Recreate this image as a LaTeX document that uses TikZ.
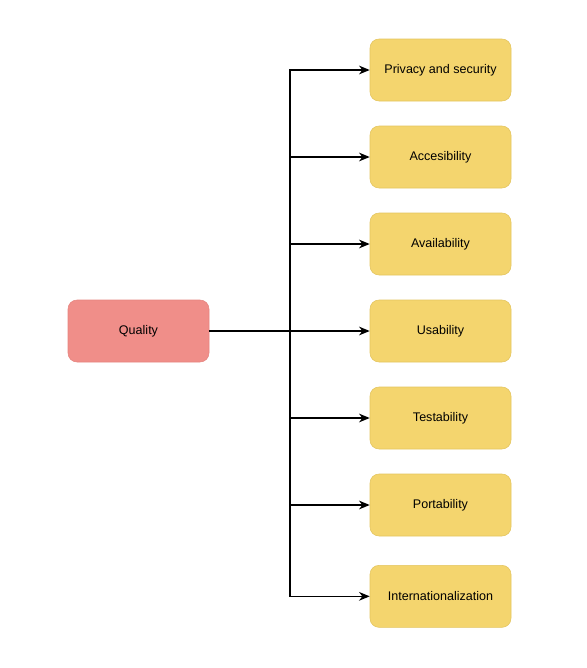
\documentclass[tikz,border=0pt]{standalone}
\usepackage{fontspec}
\setmainfont{Liberation Sans}
\usepackage{xcolor}
\usetikzlibrary{arrows.meta, positioning}

\definecolor{aspectfill}{HTML}{F4D56E}
\definecolor{aspectline}{HTML}{E3C45E}
\definecolor{qualityfill}{HTML}{F08E89}
\definecolor{qualityline}{HTML}{E58580}

\tikzset{
  aspect/.style={draw=aspectline, fill=aspectfill, rounded corners=6.75pt,
    minimum width=105.75pt, minimum height=46.5pt, font=\fontsize{9.4}{11}\selectfont},
  quality/.style={draw=qualityline, fill=qualityfill, rounded corners=6.75pt,
    minimum width=105.75pt, minimum height=46.5pt, font=\fontsize{9.4}{11}\selectfont},
  branch/.style={line width=1pt, -{Stealth[length=8pt,width=6.5pt,inset=2.5pt]}}
}

\begin{document}
\begin{tikzpicture}[x=0.75pt, y=-0.75pt, node distance=18.35pt]
\useasboundingbox (0,0) rectangle (586,668);
\node (Q) [quality] at (138.5,331) {Quality};
\node (Pr) [aspect] at (440.5,70) {Privacy and security};
\node (Ac) [aspect, below=of Pr] {Accesibility};
\node (Av) [aspect, below=of Ac] {Availability};
\node (Us) [aspect, below=of Av] {Usability};
\node (Te) [aspect, below=of Us] {Testability};
\node (Po) [aspect, below=of Te] {Portability};
\node (In) [aspect, below=21.6pt of Po] {Internationalization};
\coordinate (J) at (290,331);

\draw[line width=1pt] (Q) -- (J);
\draw[branch] (J) |- (Pr);
\draw[branch] (J) |- (Ac);
\draw[branch] (J) |- (Av);
\draw[branch] (J) -- (Us);
\draw[branch] (J) |- (Te);
\draw[branch] (J) |- (Po);
\draw[branch] (J) |- (In);
\end{tikzpicture}
\end{document}
